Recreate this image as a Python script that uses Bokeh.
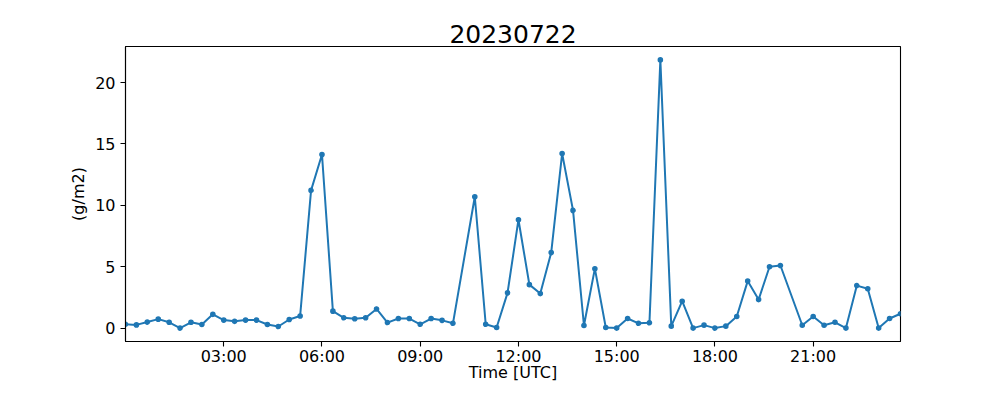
import pandas as pd
from bokeh.plotting import figure
from bokeh.models import Range1d, FixedTicker, DatetimeTickFormatter, ColumnDataSource
from bokeh.embed import file_html
from bokeh.resources import INLINE

# ---------------- data ----------------
date = "2023-07-22"
title_text = "20230722"
x_label = "Time [UTC]"
y_label = "(g/m2)"

times = ["00:00", "00:20", "00:40", "01:00", "01:20", "01:40", "02:00", "02:20", "02:40",
         "03:00", "03:20", "03:40", "04:00", "04:20", "04:40", "05:00", "05:20", "05:40",
         "06:00", "06:20", "06:40", "07:00", "07:20", "07:40", "08:00", "08:20", "08:40",
         "09:00", "09:20", "09:40", "10:00", "10:40", "11:00", "11:20", "11:40",
         "12:00", "12:20", "12:40", "13:00", "13:20", "13:40", "14:00", "14:20", "14:40",
         "15:00", "15:20", "15:40", "16:00", "16:20", "16:40", "17:00", "17:20", "17:40",
         "18:00", "18:20", "18:40", "19:00", "19:20", "19:40", "20:00", "20:40",
         "21:00", "21:20", "21:40", "22:00", "22:20", "22:40", "23:00", "23:20", "23:40"]

values = [0.31, 0.26, 0.49, 0.73, 0.47, 0.00, 0.47, 0.29, 1.12,
          0.65, 0.55, 0.65, 0.65, 0.29, 0.13, 0.70, 0.99, 11.22,
          14.14, 1.38, 0.84, 0.76, 0.84, 1.56, 0.45, 0.78, 0.78,
          0.31, 0.78, 0.63, 0.39, 10.70, 0.31, 0.05, 2.87,
          8.83, 3.54, 2.81, 6.15, 14.22, 9.59, 0.21, 4.84, 0.05,
          0.00, 0.78, 0.39, 0.44, 21.85, 0.16, 2.19, 0.00, 0.24,
          0.00, 0.16, 0.94, 3.83, 2.32, 5.00, 5.10, 0.23,
          0.94, 0.23, 0.47, 0.00, 3.46, 3.20, 0.00, 0.78, 1.17]

x_tick_labels = ["03:00", "06:00", "09:00", "12:00", "15:00", "18:00", "21:00"]
y_ticks = [0, 5, 10, 15, 20]

# ---------------- build ----------------
x = pd.to_datetime([f"{date} {t}" for t in times])
src = ColumnDataSource(dict(x=x, y=values))

ymin, ymax = min(values), max(values)
span = ymax - ymin
ylo, yhi = ymin - 0.05 * span, ymax + 0.05 * span

W, H = 984, 384
ML, MR, MT, MB = 125, 84, 46, 40

FONT = "DejaVu Sans"
BLUE = "#1f77b4"

p = figure(width=W, height=H, output_backend="svg", toolbar_location=None,
           x_axis_type="datetime",
           x_range=Range1d(x[0], x[-1]), y_range=Range1d(ylo, yhi),
           min_border_left=ML, min_border_right=MR, min_border_top=MT, min_border_bottom=MB,
           title=title_text)

p.title.align = "center"
p.title.text_font = FONT
p.title.text_font_size = "25px"
p.title.text_font_style = "normal"
p.title.text_color = "black"
p.title.standoff = 7

p.grid.visible = False
p.outline_line_color = "black"
p.outline_line_width = 1.1
p.outline_line_alpha = 1.0
p.background_fill_color = "white"
p.border_fill_color = "white"

tick_ms = [int(pd.Timestamp(f"{date} {t}").value // 10**6) for t in x_tick_labels]
p.xaxis.ticker = FixedTicker(ticks=tick_ms)
fmt = "%H:%M"
p.xaxis.formatter = DatetimeTickFormatter(
    milliseconds=fmt, seconds=fmt, minsec=fmt, minutes=fmt, hourmin=fmt, hours=fmt,
    days=fmt, months=fmt, years=fmt)
p.yaxis.ticker = FixedTicker(ticks=y_ticks)
p.xaxis.axis_label = x_label
p.yaxis.axis_label = y_label

for ax in (p.xaxis, p.yaxis):
    ax.axis_line_color = "black"
    ax.axis_line_width = 1.1
    ax.major_tick_line_color = "black"
    ax.major_tick_line_width = 1.1
    ax.major_tick_in = 0
    ax.major_tick_out = 5
    ax.minor_tick_line_color = None
    ax.major_label_text_font = FONT
    ax.major_label_text_font_size = "16px"
    ax.major_label_text_color = "black"
    ax.axis_label_text_font = FONT
    ax.axis_label_text_font_size = "16px"
    ax.axis_label_text_font_style = "normal"
    ax.axis_label_text_color = "black"

p.xaxis.major_label_standoff = 0
p.xaxis.axis_label_standoff = -6
p.yaxis.major_label_standoff = 5
p.yaxis.axis_label_standoff = 4

p.line("x", "y", source=src, line_color=BLUE, line_width=2.0)
p.scatter("x", "y", source=src, size=4.2, fill_color=BLUE, line_color=BLUE, line_width=1.4)

open("out.html", "w").write(file_html(p, INLINE))
